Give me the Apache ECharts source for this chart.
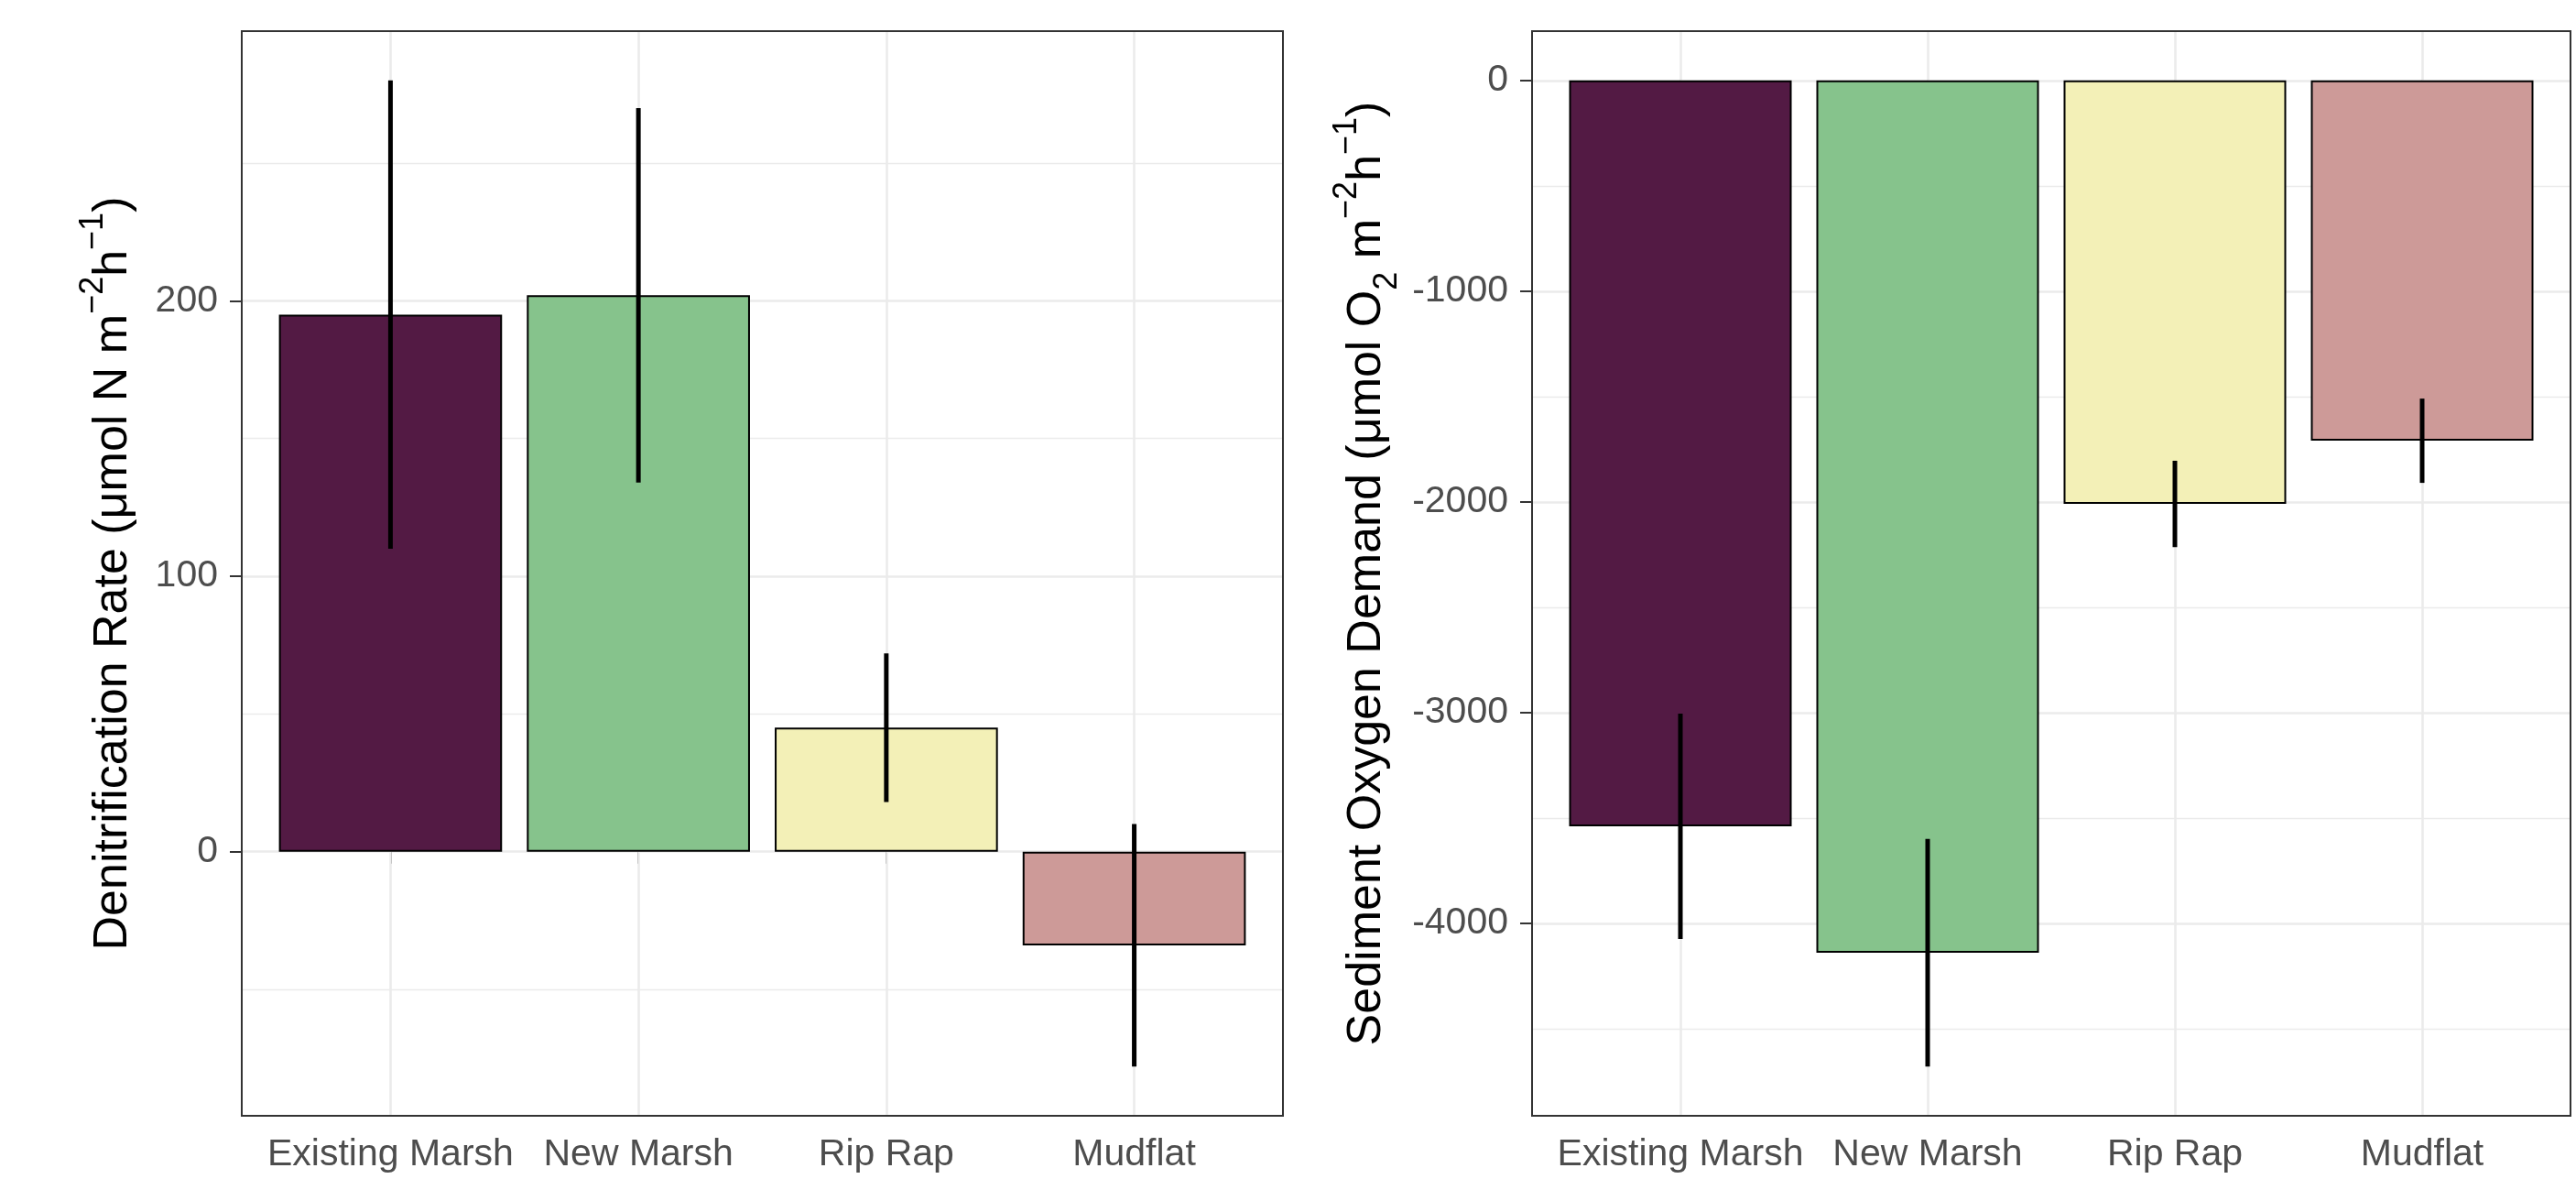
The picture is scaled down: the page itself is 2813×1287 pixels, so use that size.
<!DOCTYPE html>
<html><head><meta charset="utf-8">
<script src="https://cdn.jsdelivr.net/npm/echarts@6/dist/echarts.min.js"></script>
<style>html,body{margin:0;padding:0;background:#fff}#c{width:2813px;height:1287px}</style>
</head><body><div id="c"></div>
<script>
// ---- data ----
const categories = ['Existing Marsh', 'New Marsh', 'Rip Rap', 'Mudflat'];
const barColors = ['#531a44', '#86c38c', '#f3f0b7', '#cd9a98'];
const denitMean = [195, 202, 45, -34];
const denitSE = [85, 68, 27, 44];
const denitTicks = [0, 100, 200];
const denitMinor = [-50, 50, 150, 250];
const sodMean = [-3540, -4140, -2010, -1710];
const sodSE = [535, 540, 205, 200];
const sodTicks = [0, -1000, -2000, -3000, -4000];
const sodMinor = [-500, -1500, -2500, -3500, -4500];

const FONT = 'Liberation Sans, Arial, sans-serif';
const W = 2813, H = 1287;

function dataRange(mean, se) {
  let lo = 0, hi = 0;
  mean.forEach((m, i) => { lo = Math.min(lo, m - se[i]); hi = Math.max(hi, m + se[i]); });
  const pad = (hi - lo) * 0.05;
  return [lo - pad, hi + pad];
}

const richName = {
  t: { fontFamily: FONT, fontSize: 52, lineHeight: 80, color: '#000' },
  sup: { fontFamily: FONT, fontSize: 36, lineHeight: 36, verticalAlign: 'top', color: '#000' },
  sub: { fontFamily: FONT, fontSize: 36, lineHeight: 36, verticalAlign: 'bottom', color: '#000' }
};

const option = { animation: false, backgroundColor: '#fff', grid: [], xAxis: [], yAxis: [], series: [] };

function addPanel(box, mean, se, ticks, minor, name, nameGap) {
  const [ymin, ymax] = dataRange(mean, se);
  const gOuter = option.grid.length;
  option.grid.push({ left: box.left, top: box.top, width: box.width, height: box.height,
    show: true, borderColor: '#333', borderWidth: 2, backgroundColor: 'transparent', z: 5, outerBoundsMode: 'none' });
  const inset = box.width / 42; // ggplot discrete expansion (0.6 of 4.2 units) vs band layout
  const gInner = option.grid.length;
  option.grid.push({ left: box.left + inset, top: box.top, width: box.width - 2 * inset, height: box.height,
    show: false, outerBoundsMode: 'none' });

  // outer grid axes
  option.xAxis.push({ gridIndex: gOuter, type: 'value', min: 0, max: 1, show: false });
  option.yAxis.push({ gridIndex: gOuter, type: 'value', min: ymin, max: ymax, position: 'left',
    axisLine: { show: false },
    axisTick: { show: true, length: 13, customValues: ticks, lineStyle: { color: '#333', width: 2 } },
    axisLabel: { show: true, customValues: ticks, margin: 26, fontFamily: FONT, fontSize: 41, color: '#4d4d4d',
      formatter: function (v) { return String(v); } },
    splitLine: { show: true, lineStyle: { color: '#ebebeb', width: 2.6 } },
    name: name, nameLocation: 'middle', nameRotate: 90, nameGap: nameGap,
    nameTextStyle: { fontFamily: FONT, fontSize: 52, color: '#000', rich: richName }
  });
  option.yAxis.push({ gridIndex: gOuter, type: 'value', min: ymin, max: ymax, position: 'left',
    axisLine: { show: false }, axisLabel: { show: false },
    axisTick: { show: false, customValues: minor },
    splitLine: { show: true, lineStyle: { color: '#ebebeb', width: 1.3 } }
  });

  // inner grid axes
  const xMain = option.xAxis.length;
  option.xAxis.push({ gridIndex: gInner, type: 'category', data: categories, boundaryGap: true, position: 'bottom',
    axisLine: { show: false },
    axisTick: { show: true, alignWithLabel: true, length: 13, lineStyle: { color: '#333', width: 2 } },
    axisLabel: { show: true, margin: 22, fontFamily: FONT, fontSize: 41, color: '#4d4d4d', interval: 0 },
    splitLine: { show: false }
  });
  option.xAxis.push({ gridIndex: gInner, type: 'category', data: categories, boundaryGap: true, position: 'bottom',
    axisLine: { show: false }, axisLabel: { show: false },
    axisTick: { show: true, inside: true, alignWithLabel: true, length: box.height, lineStyle: { color: '#ebebeb', width: 2.6 } },
    splitLine: { show: false }
  });
  const yInner = option.yAxis.length;
  option.yAxis.push({ gridIndex: gInner, type: 'value', min: ymin, max: ymax, show: false });

  option.series.push({
    type: 'bar', xAxisIndex: xMain, yAxisIndex: yInner, barWidth: '90%', z: 2,
    data: mean.map((v, i) => ({ value: v, itemStyle: { color: barColors[i], borderColor: '#000', borderWidth: 2 } }))
  });
  option.series.push({
    type: 'custom', xAxisIndex: xMain, yAxisIndex: yInner, z: 3,
    encode: { x: 0, y: [1, 2] },
    data: mean.map((m, i) => [i, m - se[i], m + se[i]]),
    renderItem: function (params, api) {
      const x = api.value(0);
      const p1 = api.coord([x, api.value(2)]);
      const p2 = api.coord([x, api.value(1)]);
      return { type: 'line', shape: { x1: p1[0], y1: p1[1], x2: p2[0], y2: p2[1] },
        style: { stroke: '#000', lineWidth: 5 } };
    }
  });
}

addPanel({ left: 264, top: 34, width: 1137, height: 1184 }, denitMean, denitSE, denitTicks, denitMinor,
  '{t|Denitrification Rate (μmol N m}{sup|−2}{t|h}{sup|−1}{t|)}', 100);
addPanel({ left: 1673, top: 34, width: 1134, height: 1184 }, sodMean, sodSE, sodTicks, sodMinor,
  '{t|Sediment Oxygen Demand (μmol O}{sub|2}{t| m}{sup|−2}{t|h}{sup|−1}{t|)}', 140);

const chart = echarts.init(document.getElementById('c'), null, { renderer: 'canvas', width: W, height: H });
chart.setOption(option);
</script>
</body></html>
